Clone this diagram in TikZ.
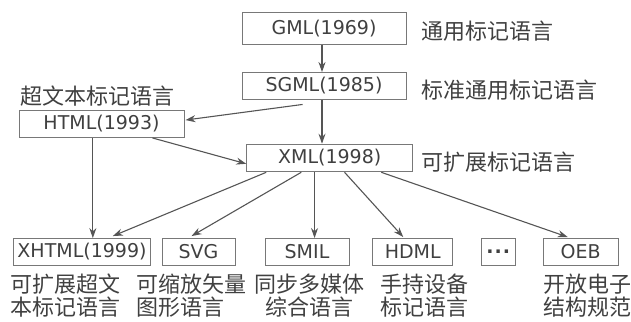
\documentclass[tikz,border=0pt]{standalone}
\usepackage{fontspec}
\setmainfont{DejaVu Sans}
\newfontfamily\cjk{Noto Sans CJK SC}
\usetikzlibrary{arrows.meta,calc}
\definecolor{ink}{HTML}{404040}
\definecolor{edgec}{HTML}{787878}
\definecolor{arr}{HTML}{555555}
\begin{document}
\begin{tikzpicture}[x=1pt,y=-1pt,
  box/.style={draw=edgec,line width=0.9pt,text=ink,font=\fontsize{19}{21}\selectfont,inner sep=0pt,anchor=center,minimum height=27pt},
  lab/.style={text=ink,font=\cjk\fontsize{22}{24}\selectfont,inner sep=0pt,anchor=west},
  con/.style={draw=arr,line width=1.1pt,-{Stealth[length=10pt,width=7pt]}}]
\useasboundingbox (0,0) rectangle (631,321);
% boxes
\node[box,minimum width=164pt,minimum height=31.6pt] (gml) at (324,28.5) {GML(1969)};
\node[box,minimum width=164pt] (sgml) at (324,86) {SGML(1985)};
\node[box,minimum width=165pt] (html) at (101.5,124) {HTML(1993)};
\node[box,minimum width=166pt,minimum height=27.7pt] (xml) at (329.7,158) {XML(1998)};
\node[box,minimum width=137.4pt] (xhtml) at (82,252) {XHTML(1999)};
\node[box,minimum width=73pt] (svg) at (198.5,252) {SVG};
\node[box,minimum width=84pt] (smil) at (307,252) {SMIL};
\node[box,minimum width=80pt] (hdml) at (412.7,252) {HDML};
\node[box,minimum width=33.3pt] (dots) at (498.3,252) {\bfseries .\kern1pt.\kern1pt.};
\node[box,minimum width=75pt] (oeb) at (580.7,252) {OEB};
% labels
\node[lab] (lgml) at (421,31) {通用标记语言};
\node[lab] (lsgml) at (421,90) {标准通用标记语言};
\node[lab] (lhtml) at (20,96) {超文本标记语言};
\node[lab] (lxml) at (421,162) {可扩展标记语言};
\node[lab] (lx1) at (10,284) {可扩展超文};
\node[lab] (lx2) at (10,307) {本标记语言};
\node[lab] (ls1) at (136,284) {可缩放矢量};
\node[lab] (ls2) at (136,307) {图形语言};
\node[lab] (lm1) at (254,284) {同步多媒体};
\node[lab,anchor=center] (lm2) at (lm1.center |- 0,307) {综合语言};
\node[lab] (lh1) at (380,284) {手持设备};
\node[lab] (lh2) at (380,307) {标记语言};
\node[lab] (lo1) at (543,284) {开放电子};
\node[lab] (lo2) at (543,307) {结构规范};
% connector points
\coordinate (g1) at ($(gml.south)+(-2,0)$);
\coordinate (s1) at ($(sgml.south)+(-2,0)$);
\coordinate (s2) at ($(sgml.south west)+(61,4.5)$);
\coordinate (h1) at ($(html.north east)+(1,10)$);
\coordinate (h2) at ($(html.south east)+(-32,0)$);
\coordinate (h3) at ($(html.south west)+(74.3,0)$);
\coordinate (x0) at ($(xml.south west)+(0,-8.5)$);
\coordinate (xa) at ($(xml.south west)+(20,0)$);
\coordinate (xb) at ($(xml.south west)+(55,0)$);
\coordinate (xc) at ($(xml.south west)+(68.3,0)$);
\coordinate (xd) at ($(xml.south west)+(98.3,0)$);
\coordinate (xe) at ($(xml.south west)+(135,0)$);
\coordinate (ta) at ($(xhtml.north west)+(100,-2)$);
\coordinate (tb) at ($(svg.north west)+(30,-2)$);
\coordinate (td) at ($(hdml.north west)+(31,-1)$);
\coordinate (te) at ($(oeb.north west)+(25,-1)$);
% connectors
\draw[con] (g1) -- (g1 |- sgml.north);
\draw[con] (s1) -- (s1 |- xml.north);
\draw[con] (s2) -- (h1);
\draw[con] (h2) -- (x0);
\draw[con] (h3) -- (h3 |- xhtml.north);
\draw[con] (xa) -- (ta);
\draw[con] (xb) -- (tb);
\draw[con] (xc) -- (xc |- smil.north);
\draw[con] (xd) -- (td);
\draw[con] (xe) -- (te);
\end{tikzpicture}
\end{document}
